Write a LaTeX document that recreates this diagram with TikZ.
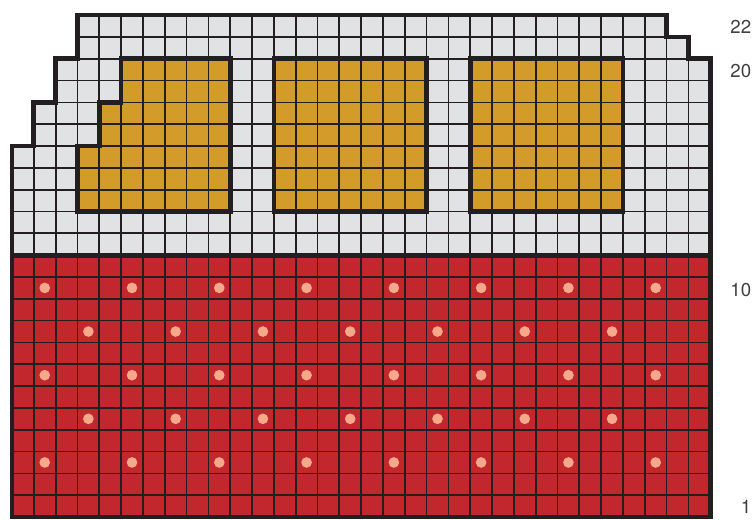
\documentclass[tikz,border=0pt]{standalone}
\usepackage{fontspec}
\setmainfont{TeX Gyre Heros}

\definecolor{gridink}{HTML}{231F20}
\definecolor{wallgray}{HTML}{E1E2E4}
\definecolor{roofred}{HTML}{C1272D}
\definecolor{pane}{HTML}{D39B2A}
\definecolor{dotpeach}{HTML}{F5A98A}
\definecolor{labelgray}{HTML}{404040}

\begin{document}
\begin{tikzpicture}[
    x=16.36pt, y=16.36pt,
    line join=miter,
    cell/.style={line width=1.3pt,draw=gridink},
    border/.style={line width=3.5pt,draw=gridink},
    rowlabel/.style={anchor=east,inner sep=0pt,text=labelgray,
                     font=\fontsize{14}{14}\selectfont},
    stitch/.style={fill=dotpeach}
]

\useasboundingbox (-0.55,-0.092) rectangle (34.005,23.694);

% -------------------------------------------------
% Outer contour of the chart
% -------------------------------------------------

\coordinate (O1)  at (0,0);
\coordinate (O2)  at (0,17);
\coordinate (O3)  at (1,17);
\coordinate (O4)  at (1,19);
\coordinate (O5)  at (2,19);
\coordinate (O6)  at (2,21);
\coordinate (O7)  at (3,21);
\coordinate (O8)  at (3,23);
\coordinate (O9)  at (30,23);
\coordinate (O10) at (30,22);
\coordinate (O11) at (31,22);
\coordinate (O12) at (31,21);
\coordinate (O13) at (32,21);
\coordinate (O14) at (32,0);
\coordinate (Otop) at (32,23);

% Boundary between the two colour blocks
\coordinate (S1) at (0,12);
\coordinate (S2) at (32,12);

% -------------------------------------------------
% Windows
% -------------------------------------------------

% left window, stepped
\coordinate (L1) at (3,14);
\coordinate (L2) at (3,17);
\coordinate (L3) at (4,17);
\coordinate (L4) at (4,19);
\coordinate (L5) at (5,19);
\coordinate (L6) at (5,21);
\coordinate (L7) at (10,21);
\coordinate (L8) at (10,14);

% middle window
\coordinate (M1) at (12,14);
\coordinate (M2) at (19,21);

% right window
\coordinate (R1) at (21,14);
\coordinate (R2) at (28,21);

% -------------------------------------------------
% Fills
% -------------------------------------------------

\fill[wallgray] (O1)--(O2)--(O3)--(O4)--(O5)--(O6)--(O7)--(O8)--(O9)
    --(O10)--(O11)--(O12)--(O13)--(O14)--cycle;
\fill[roofred] (O1) rectangle (S2);

\fill[pane] (L1)--(L2)--(L3)--(L4)--(L5)--(L6)--(L7)--(L8)--cycle;
\fill[pane] (M1) rectangle (M2);
\fill[pane] (R1) rectangle (R2);

% Dots on the red block
\foreach \c in {1.5,5.5,...,29.5}
  \foreach \r in {2.5,6.5,10.5}
    \fill[stitch] (\c,\r) circle (4pt);
\foreach \c in {3.5,7.5,...,27.5}
  \foreach \r in {4.5,8.5}
    \fill[stitch] (\c,\r) circle (4pt);

% -------------------------------------------------
% Cell lines
% -------------------------------------------------

\begin{scope}
  \clip (O1)--(O2)--(O3)--(O4)--(O5)--(O6)--(O7)--(O8)--(O9)
      --(O10)--(O11)--(O12)--(O13)--(O14)--cycle;
  \draw[cell,step=16.36pt] (O1) grid (Otop);
\end{scope}

% -------------------------------------------------
% Heavy outlines
% -------------------------------------------------

\draw[border] (L1)--(L2)--(L3)--(L4)--(L5)--(L6)--(L7)--(L8)--cycle;
\draw[border] (M1) rectangle (M2);
\draw[border] (R1) rectangle (R2);

\draw[border] (S1)--(S2);

\draw[border] (O1)--(O2)--(O3)--(O4)--(O5)--(O6)--(O7)--(O8)--(O9)
    --(O10)--(O11)--(O12)--(O13)--(O14)--cycle;

% -------------------------------------------------
% Row numbers
% -------------------------------------------------

\node[rowlabel] (row22) at (33.89,22.45) {22};
\node[rowlabel] (row20) at (33.89,20.45) {20};
\node[rowlabel] (row10) at (33.89,10.40) {10};
\node[rowlabel] (row1)  at (33.89,0.45)  {1};

\end{tikzpicture}
\end{document}
